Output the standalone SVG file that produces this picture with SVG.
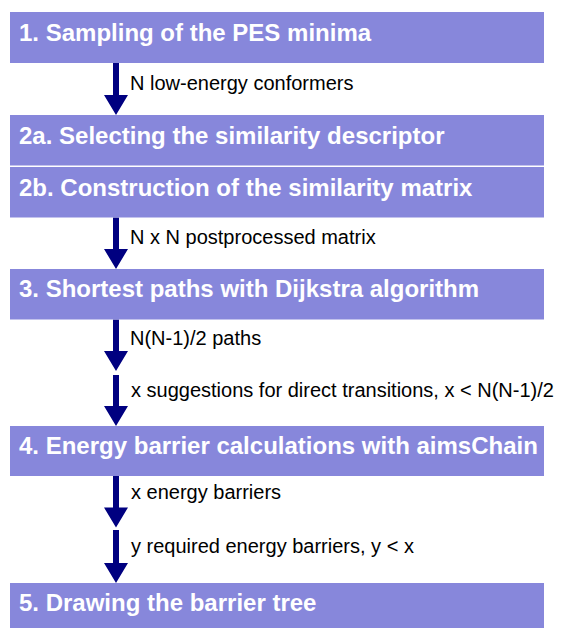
<svg xmlns="http://www.w3.org/2000/svg" width="566" height="628" viewBox="0 0 566 628">
<style>
.box{fill:#8787DB}
.h{font-family:"Liberation Sans",Arial,sans-serif;font-weight:bold;font-size:24px;fill:#FFFFFF}
.lbl{font-family:"Liberation Sans",Arial,sans-serif;font-size:20px;fill:#000000}
.arr{fill:#000080}
</style>
<rect width="566" height="628" fill="#FFFFFF"/>
<g id="connectors">
<path class="arr" d="M113,63 V95 H104 L116,115 L128,95 H119 V63 Z"/>
<path class="arr" d="M113,217.5 V249 H104 L116,269 L128,249 H119 V217.5 Z"/>
<path class="arr" d="M113,319.5 V351 H104 L116,371 L128,351 H119 V319.5 Z"/>
<path class="arr" d="M113,375 V406 H104 L116,426 L128,406 H119 V375 Z"/>
<path class="arr" d="M113,476 V507.5 H104 L116,527.5 L128,507.5 H119 V476 Z"/>
<path class="arr" d="M113,530 V563 H104 L116,583 L128,563 H119 V530 Z"/>
<text class="lbl" x="130" y="90">N low-energy conformers</text>
<text class="lbl" x="130" y="243.5">N x N postprocessed matrix</text>
<text class="lbl" x="130" y="344.5">N(N-1)/2 paths</text>
<text class="lbl" x="131" y="397">x suggestions for direct transitions, x &lt; N(N-1)/2</text>
<text class="lbl" x="131" y="498.5">x energy barriers</text>
<text class="lbl" x="131" y="552.5">y required energy barriers, y &lt; x</text>
</g>
<g id="step1">
<rect class="box" x="10" y="12" width="534" height="51"/>
<text class="h" x="19" y="41">1. Sampling of the PES minima</text>
</g>
<g id="step2a">
<rect class="box" x="10" y="115" width="534" height="50.5"/>
<text class="h" x="19" y="143.5">2a. Selecting the similarity descriptor</text>
</g>
<g id="step2b">
<rect class="box" x="10" y="167" width="534" height="50.5"/>
<text class="h" x="19" y="195.5">2b. Construction of the similarity matrix</text>
</g>
<g id="step3">
<rect class="box" x="10" y="269" width="534" height="50.5"/>
<text class="h" x="19" y="297">3. Shortest paths with Dijkstra algorithm</text>
</g>
<g id="step4">
<rect class="box" x="10" y="426" width="534" height="50"/>
<text class="h" x="19" y="454">4. Energy barrier calculations with aimsChain</text>
</g>
<g id="step5">
<rect class="box" x="10" y="583" width="534" height="45"/>
<text class="h" x="19" y="611">5. Drawing the barrier tree</text>
</g>
</svg>
